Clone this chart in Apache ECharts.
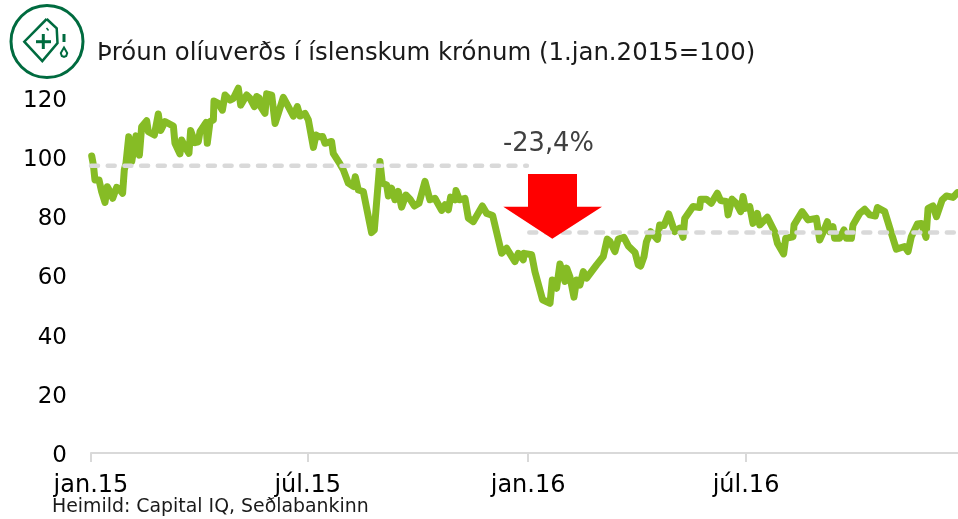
<!DOCTYPE html>
<html>
<head>
<meta charset="utf-8">
<style>
  html, body { margin: 0; padding: 0; background: #fff; }
  #chart { width: 958px; height: 519px; }
</style>
<script src="https://cdn.jsdelivr.net/npm/echarts@6/dist/echarts.min.js"></script>
</head>
<body>
<div id="chart"></div>
<script>
// days since 1 jan 2015
const days = [
  0.6,2,3.3,6.7,8.9,11.7,13.6,15.9,18.1,21.4,24.2,26.4,27.8,29.2,31.5,34,37.6,40.4,42.3,46.5,47.9,52.9,56.2,58.2,61.8,68.8,70.1,74.3,75.7,78.5,81.8,83.2,86.8,89.6,91,96,97.1,99.4,102.2,102.7,106.3,109.7,111.9,116.1,118.9,123,125,130,132.8,136.4,138.3,140.6,141.7,145.3,146.7,150.9,153.7,156.4,160.6,164.8,169,172.3,174.5,178.7,181.5,185.7,187.9,190.7,
  193.4,195.4,200.9,202.3,207.9,210.7,214.9,219,220.7,223.2,227.4,231.6,234.3,236.6,241.3,243.3,246.9,248.3,251,253.8,256.6,259.4,263,266.4,270,273.9,278.9,283,287.2,292.8,295.6,298.4,300.3,303.9,304.8,307.6,312.3,315.1,319.2,326.8,330.4,335.4,342.9,347.1,354,356.8,361,361.6,368,370.7,377.1,383.3,385.2,388.8,391.6,395.8,397.2,399.9,403.3,405.5,408.3,411.1,413.9,422.2,427.8,431.1,433.4,437.5,440.3,445,448.7,454.3,457,
  459,461.8,463.8,467.4,473,474.9,478.5,482.4,487.4,491.6,494.4,495.8,502.7,508.3,509.1,513.9,518,523,525.8,530.6,532,535.3,538.9,542.5,544.5,546.4,550.1,552.8,556.4,558.4,564.8,570.9,573.2,578.4,580.1,586.2,587.1,593.8,598.8,605.7,608.5,611.3,614.9,616.9,619.6,621,625.2,628.8,630.8,635,636.3,641.9,646.1,650.3,655,656.7,662.8,672.5,679.5,682.3,685,690.1,693.4,697.3,699,703.1,706,710.7,714.3,719.9,723.5
];
// index value (1.jan.2015=100)
const oilIndex = [
  100.4,97.4,92.3,92.3,88.3,84.7,90,88.3,86.1,89.8,88.9,87.8,95.7,97.9,106.9,98.5,107.2,100.7,110.3,112.3,108.6,107.5,114.6,109,112,110.5,104.7,101.1,105.8,103.5,101.3,109,104.9,105.2,108.6,111.7,104.7,112,112.6,119,118.2,115.9,121,119.3,119.9,123.3,117.6,121,119.9,117.1,120.5,119.9,117.1,114.8,121.4,121,111.4,114.8,120.2,117.1,113.9,117.1,113.9,114.8,112.6,103.3,107.5,106.9,
  107,104.7,105.3,101.3,97.7,95.7,91.2,90.1,93.4,88.9,88.4,79.9,74.5,75.4,98.5,91.2,90.6,86.9,89.5,85.6,88.4,83.1,87.2,85.8,83.5,84.4,91.8,85.6,86.1,82,83.9,82.2,86.5,85.6,88.7,85.6,86.1,79.4,78.2,83.5,81,80.3,67.5,69.2,64.7,67.5,65.3,67.5,67,61.3,51.8,50.6,58.5,55.7,63.9,58,62.5,59.6,52.7,58.5,56.8,61.3,59.1,63.6,66.4,72.3,71.5,68.1,72.3,72.9,70,67.8,63.6,
  63.2,66.4,71.4,74.8,72.2,77.1,76.9,80.8,74.8,76,72.9,79.3,83.3,83,85.8,85.8,84.4,87.8,85.3,85,80.5,85.8,84.4,81.6,86.7,82.7,83.3,77.6,81,77.1,79.7,74.8,70.9,67.3,72.6,73.1,77.1,81.6,78.8,79.3,72,74.5,78.2,74.8,76.5,72.6,72.6,75.4,72.6,72.6,77.1,81,82.4,80.5,80.1,83,81.6,68.9,69.8,68.1,73.1,77.4,77.6,72.9,82.7,83.5,79.9,85.5,86.9,86.4,88
];
const tickDays = [0, 181, 365, 547];
const tickLabels = ['jan.15', 'júl.15', 'jan.16', 'júl.16'];
const levelBefore = [[0, 97.1], [364, 97.1]];
const levelAfter = [[366, 74.5], [724, 74.5]];
const lastDay = 724;

const green = '#006b3f';
const grey = '#d9d9d9';
const chart = echarts.init(document.getElementById('chart'));
chart.setOption({
  animation: false,
  textStyle: { fontFamily: 'DejaVu Sans' },
  grid: { left: 91, right: 0, top: 98, height: 355 },
  xAxis: {
    type: 'value', min: 0, max: lastDay,
    splitLine: { show: false },
    axisLine: { onZero: false, lineStyle: { color: grey, width: 2 } },
    axisTick: { show: true, length: 9, customValues: tickDays, lineStyle: { color: grey, width: 2 } },
    axisLabel: {
      customValues: tickDays, color: '#000', fontSize: 24, margin: 21, hideOverlap: false,
      formatter: v => tickLabels[tickDays.indexOf(v)]
    }
  },
  yAxis: {
    type: 'value', min: 0, max: 120, interval: 20,
    splitLine: { show: false }, axisLine: { show: false }, axisTick: { show: false },
    axisLabel: {
      color: '#000', fontSize: 23, margin: 24,
      formatter: v => '{n|' + v + '}',
      rich: { n: { color: '#000', fontSize: 23, padding: [6, 0, 0, 0] } }
    }
  },
  series: [
    {
      type: 'line', symbol: 'none', silent: true, z: 3, data: levelBefore,
      lineStyle: { color: grey, width: 4.5, type: [7, 9.7], cap: 'round' }
    },
    {
      type: 'line', symbol: 'none', silent: true, z: 3, data: levelAfter,
      lineStyle: { color: grey, width: 4.5, type: [7, 9.7], cap: 'round' }
    },
    {
      type: 'line', symbol: 'none', z: 2, clip: false,
      data: oilIndex.map((v, i) => [days[i], v]),
      lineStyle: { color: '#86bc25', width: 7, join: 'round', cap: 'round' }
    }
  ],
  graphic: [
    { type: 'text', left: 97, top: 42, style: { text: 'Þróun olíuverðs í íslenskum krónum (1.jan.2015=100)', fontSize: 24.4, fontFamily: 'DejaVu Sans', fill: '#1a1a1a' } },
    { type: 'text', left: 503, top: 131, style: { text: '-23,4%', fontSize: 25.7, fontFamily: 'DejaVu Sans', fill: '#404040' } },
    { type: 'text', left: 52, top: 498, style: { text: 'Heimild: Capital IQ, Seðlabankinn', fontSize: 18.9, fontFamily: 'DejaVu Sans', fill: '#1a1a1a' } },
    // arrow
    { type: 'polygon', z: 10, shape: { points: [[528, 174], [577, 174], [577, 206.7], [602, 206.7], [552.3, 238.7], [503.3, 206.7], [528, 206.7]] }, style: { fill: '#ff0000' } },
    // icon
    { type: 'circle', shape: { cx: 47, cy: 41.5, r: 36 }, style: { fill: '#fff', stroke: green, lineWidth: 3 } },
    { type: 'polyline', shape: { points: [[46.7, 19], [56.7, 28.3], [57.5, 43], [42.3, 61], [24.3, 41.7], [46.7, 19]] }, style: { fill: 'none', stroke: green, lineWidth: 2.5 } },
    { type: 'line', shape: { x1: 36, y1: 41.7, x2: 51, y2: 41.7 }, style: { stroke: green, lineWidth: 3 } },
    { type: 'line', shape: { x1: 43.3, y1: 34, x2: 43.3, y2: 49 }, style: { stroke: green, lineWidth: 3 } },
    { type: 'line', shape: { x1: 46.5, y1: 28, x2: 48.5, y2: 30.5 }, style: { stroke: green, lineWidth: 1.5 } },
    { type: 'line', shape: { x1: 64, y1: 34, x2: 64, y2: 42 }, style: { stroke: green, lineWidth: 3 } },
    { type: 'polygon', shape: { points: [[64, 47.5], [67.2, 53], [66.2, 56], [64, 57], [61.8, 56], [60.8, 53]] }, style: { fill: 'none', stroke: green, lineWidth: 2 } }
  ]
});
</script>
</body>
</html>
